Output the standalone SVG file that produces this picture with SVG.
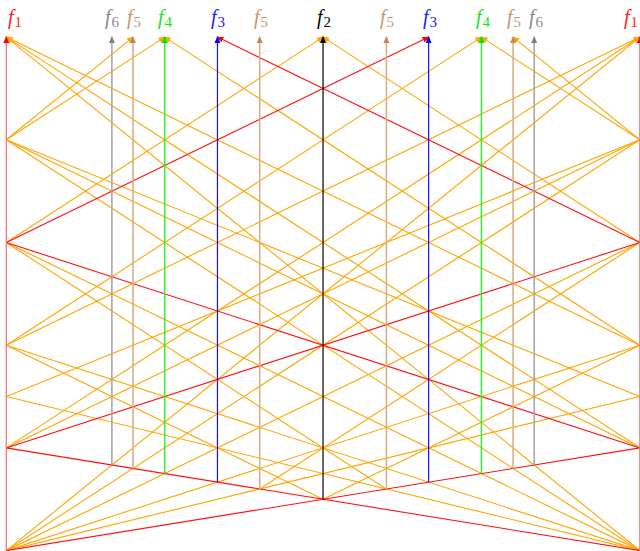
<svg xmlns="http://www.w3.org/2000/svg" width="640" height="551" viewBox="0 0 640 551">
<style>
.or{stroke:#FFA500;stroke-width:1.1;fill:none}
.rd{stroke:#FF1010;stroke-width:1.1;fill:none}
.lb{font-family:"Liberation Serif",serif;font-size:20px;font-style:italic;text-anchor:middle}
.sb{font-style:normal;font-size:15px}
</style>
<defs>
<marker id="m-or" markerUnits="userSpaceOnUse" markerWidth="10" markerHeight="10" refX="6" refY="3" orient="auto"><path d="M0,0 L7,3 L0,6 z" fill="#FFA500"/></marker>
<marker id="m-rd" markerUnits="userSpaceOnUse" markerWidth="10" markerHeight="10" refX="6" refY="3" orient="auto"><path d="M0,0 L7,3 L0,6 z" fill="#FF0000"/></marker>
<marker id="m-gy" markerUnits="userSpaceOnUse" markerWidth="10" markerHeight="10" refX="6" refY="3" orient="auto"><path d="M0,0 L7,3 L0,6 z" fill="#808080"/></marker>
<marker id="m-tn" markerUnits="userSpaceOnUse" markerWidth="10" markerHeight="10" refX="6" refY="3" orient="auto"><path d="M0,0 L7,3 L0,6 z" fill="#C08A58"/></marker>
<marker id="m-gn" markerUnits="userSpaceOnUse" markerWidth="10" markerHeight="10" refX="6" refY="3" orient="auto"><path d="M0,0 L7,3 L0,6 z" fill="#00E000"/></marker>
<marker id="m-bl" markerUnits="userSpaceOnUse" markerWidth="10" markerHeight="10" refX="6" refY="3" orient="auto"><path d="M0,0 L7,3 L0,6 z" fill="#0000FF"/></marker>
<marker id="m-bk" markerUnits="userSpaceOnUse" markerWidth="10" markerHeight="10" refX="6" refY="3" orient="auto"><path d="M0,0 L7,3 L0,6 z" fill="#000000"/></marker>
</defs>
<rect width="640" height="551" fill="#FFFFFF"/>
<g id="connectors">
<g id="orange-lines" class="or">
<path d="M639.8,345.2 L6.3,37.1" marker-end="url(#m-or)"/>
<path d="M639.8,447.9 L6.3,37.1" marker-end="url(#m-or)"/>
<path d="M639.8,550.6 L6.3,37.1" marker-end="url(#m-or)"/>
<path d="M6.3,345.2 L639.8,37.1" marker-end="url(#m-or)"/>
<path d="M6.3,447.9 L639.8,37.1" marker-end="url(#m-or)"/>
<path d="M6.3,550.6 L639.8,37.1" marker-end="url(#m-or)"/>
<path d="M6.3,139.8 L639.8,396.55"/>
<path d="M6.3,396.55 L639.8,139.8"/>
<path d="M6.3,139.8 L639.8,447.9"/>
<path d="M6.3,447.9 L639.8,139.8"/>
<path d="M6.3,139.8 L639.8,550.6"/>
<path d="M6.3,550.6 L639.8,139.8"/>
<path d="M6.3,242.5 L639.8,550.6"/>
<path d="M6.3,550.6 L639.8,242.5"/>
<path d="M6.3,345.2 L639.8,550.6"/>
<path d="M6.3,550.6 L639.8,345.2"/>
<path d="M6.3,396.55 L639.8,550.6"/>
<path d="M6.3,550.6 L639.8,396.55"/>
<path d="M6.3,139.8 L133.0,37.1" marker-end="url(#m-or)"/>
<path d="M6.3,139.8 L164.68,37.1" marker-end="url(#m-or)"/>
<path d="M639.8,345.2 L164.68,37.1" marker-end="url(#m-or)"/>
<path d="M6.3,242.5 L323.05,37.1" marker-end="url(#m-or)"/>
<path d="M639.8,139.8 L513.1,37.1" marker-end="url(#m-or)"/>
<path d="M639.8,139.8 L481.43,37.1" marker-end="url(#m-or)"/>
<path d="M6.3,345.2 L481.43,37.1" marker-end="url(#m-or)"/>
<path d="M639.8,242.5 L323.05,37.1" marker-end="url(#m-or)"/>
<path d="M6.3,242.5 L386.4,489.0"/>
<path d="M639.8,242.5 L259.7,489.0"/>
<path d="M6.3,345.2 L323.05,499.25"/>
<path d="M639.8,345.2 L323.05,499.25"/>
</g>
<g id="red-lines" class="rd">
<path d="M6.3,550.6 L639.8,447.9"/>
<path d="M6.3,447.9 L639.8,550.6"/>
<path d="M6.3,447.9 L639.8,242.5"/>
<path d="M6.3,242.5 L639.8,447.9"/>
<path d="M6.3,242.5 L428.63,37.1" marker-end="url(#m-rd)"/>
<path d="M639.8,242.5 L217.47,37.1" marker-end="url(#m-rd)"/>
</g>
</g>
<g id="f1-left"><path d="M6.3,550.6 L6.3,37.1" stroke="#FF7474" stroke-width="1.3" marker-end="url(#m-rd)"/><text class="lb" x="15" y="24" fill="#FF2020">f<tspan class="sb" dx="1" dy="3.3">1</tspan></text></g>
<g id="f6-left"><path d="M111.88,465.0 L111.88,37.1" stroke="#A8A8A8" stroke-width="1.6" marker-end="url(#m-gy)"/><text class="lb" x="112" y="24" fill="#888888">f<tspan class="sb" dx="1" dy="3.3">6</tspan></text></g>
<g id="f5-a"><path d="M133.0,468.4 L133.0,37.1" stroke="#D8B088" stroke-width="1.6" marker-end="url(#m-tn)"/><text class="lb" x="134" y="24" fill="#C8956A">f<tspan class="sb" dx="1" dy="3.3">5</tspan></text></g>
<g id="f4-left"><path d="M164.68,473.6 L164.68,37.1" stroke="#30F030" stroke-width="1.5" marker-end="url(#m-gn)"/><text class="lb" x="165" y="24" fill="#20E020">f<tspan class="sb" dx="1" dy="3.3">4</tspan></text></g>
<g id="f3-left"><path d="M217.47,482.1 L217.47,37.1" stroke="#1010FF" stroke-width="1.2" marker-end="url(#m-bl)"/><text class="lb" x="218" y="24" fill="#2020FF">f<tspan class="sb" dx="1" dy="3.3">3</tspan></text></g>
<g id="f5-b"><path d="M259.7,489.0 L259.7,37.1" stroke="#D8B088" stroke-width="1.6" marker-end="url(#m-tn)"/><text class="lb" x="261" y="24" fill="#C8956A">f<tspan class="sb" dx="1" dy="3.3">5</tspan></text></g>
<g id="f2"><path d="M323.05,499.25 L323.05,37.1" stroke="#000000" stroke-width="1.2" marker-end="url(#m-bk)"/><text class="lb" x="324" y="24" fill="#000000">f<tspan class="sb" dx="1" dy="3.3">2</tspan></text></g>
<g id="f5-c"><path d="M386.4,489.0 L386.4,37.1" stroke="#D8B088" stroke-width="1.6" marker-end="url(#m-tn)"/><text class="lb" x="387" y="24" fill="#C8956A">f<tspan class="sb" dx="1" dy="3.3">5</tspan></text></g>
<g id="f3-right"><path d="M428.63,482.1 L428.63,37.1" stroke="#1010FF" stroke-width="1.2" marker-end="url(#m-bl)"/><text class="lb" x="430" y="24" fill="#2020FF">f<tspan class="sb" dx="1" dy="3.3">3</tspan></text></g>
<g id="f4-right"><path d="M481.43,473.6 L481.43,37.1" stroke="#30F030" stroke-width="1.5" marker-end="url(#m-gn)"/><text class="lb" x="483" y="24" fill="#20E020">f<tspan class="sb" dx="1" dy="3.3">4</tspan></text></g>
<g id="f5-d"><path d="M513.1,468.4 L513.1,37.1" stroke="#D8B088" stroke-width="1.6" marker-end="url(#m-tn)"/><text class="lb" x="514" y="24" fill="#C8956A">f<tspan class="sb" dx="1" dy="3.3">5</tspan></text></g>
<g id="f6-right"><path d="M534.22,465.0 L534.22,37.1" stroke="#A8A8A8" stroke-width="1.6" marker-end="url(#m-gy)"/><text class="lb" x="536" y="24" fill="#888888">f<tspan class="sb" dx="1" dy="3.3">6</tspan></text></g>
<g id="f1-right"><path d="M639.8,550.6 L639.8,37.1" stroke="#FF7474" stroke-width="1.3" marker-end="url(#m-rd)"/><text class="lb" x="631" y="24" fill="#FF2020">f<tspan class="sb" dx="1" dy="3.3">1</tspan></text></g>
</svg>
